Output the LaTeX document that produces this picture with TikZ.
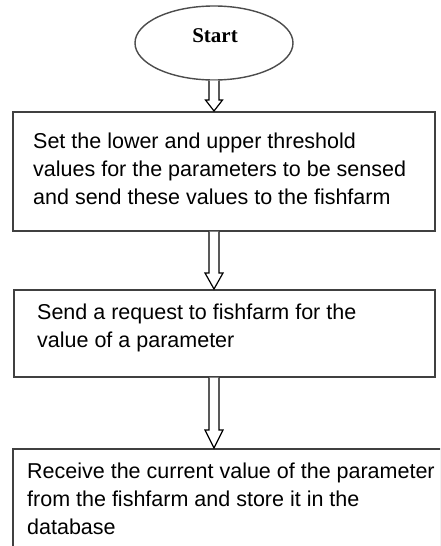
\documentclass[tikz,border=0pt]{standalone}
\usepackage{fontspec}
\setmainfont{Liberation Sans}
\newfontfamily\startfont{Liberation Serif}
\usetikzlibrary{shapes.geometric,calc,shadows}
\tikzset{
  boxline/.style={draw=black!75, line width=1.6pt, fill=white,
    drop shadow={shadow xshift=1.2pt, shadow yshift=-1.2pt, fill=black!45, opacity=1}},
  stepbox/.style={boxline, rectangle, inner sep=0pt, anchor=north west},
  boxtext/.style={anchor=north west, inner sep=0pt, align=left, text=black,
    font=\fontsize{21.5pt}{28pt}\selectfont},
  startshape/.style={ellipse, draw=black!70, line width=1.4pt, inner sep=0pt,
    minimum width=158pt, minimum height=74pt},
  fatarrow/.style={draw=black, line width=1.2pt, fill=white, line join=miter}
}
\begin{document}
\begin{tikzpicture}[x=1pt,y=-1pt]
\useasboundingbox (0,0) rectangle (440,546);
\clip (0,0) rectangle (440,546);
\fill[white] (0,0) rectangle (440,546);
% start
\node[startshape] (start) at (214,43) {};
\node[anchor=base, inner sep=0pt, font=\startfont\bfseries\fontsize{21pt}{24pt}\selectfont] (starttxt) at (215,42) {Start};
% boxes
\node[stepbox, minimum width=422pt, minimum height=119pt] (b1) at (12,111) {};
\node[boxtext] (t1) at (33,132.5) {Set the lower and upper threshold\\values for the parameters to be sensed\\and send these values to the fishfarm};
\node[stepbox, minimum width=421pt, minimum height=87pt] (b2) at (13,289) {};
\node[boxtext] (t2) at (37,303.5) {Send a request to fishfarm for the\\value of a parameter};
\node[stepbox, minimum width=440pt, minimum height=120pt] (b3) at (12,448) {};
\node[boxtext] (t3) at (27,462.5) {Receive the current value of the parameter\\from the fishfarm and store it in the\\database};
% arrows
\draw[fatarrow] let \p1=(start.south), \p2=(b1.north -| start.south) in
  (\x1-5pt,\y1) -- (\x1-5pt,\y2+11pt) -- (\x1-8.5pt,\y2+11pt) -- (\x2,\y2)
  -- (\x1+8.5pt,\y2+11pt) -- (\x1+5pt,\y2+11pt) -- (\x1+5pt,\y1);
\draw[fatarrow] let \p1=(b1.south -| start.south), \p2=(b2.north -| start.south) in
  (\x1-5pt,\y1) -- (\x1-5pt,\y2+16pt) -- (\x1-9pt,\y2+16pt) -- (\x2,\y2)
  -- (\x1+9pt,\y2+16pt) -- (\x1+5pt,\y2+16pt) -- (\x1+5pt,\y1);
\draw[fatarrow] let \p1=(b2.south -| start.south), \p2=(b3.north -| start.south) in
  (\x1-5pt,\y1) -- (\x1-5pt,\y2+18pt) -- (\x1-9pt,\y2+18pt) -- (\x2,\y2)
  -- (\x1+9pt,\y2+18pt) -- (\x1+5pt,\y2+18pt) -- (\x1+5pt,\y1);
\end{tikzpicture}
\end{document}
